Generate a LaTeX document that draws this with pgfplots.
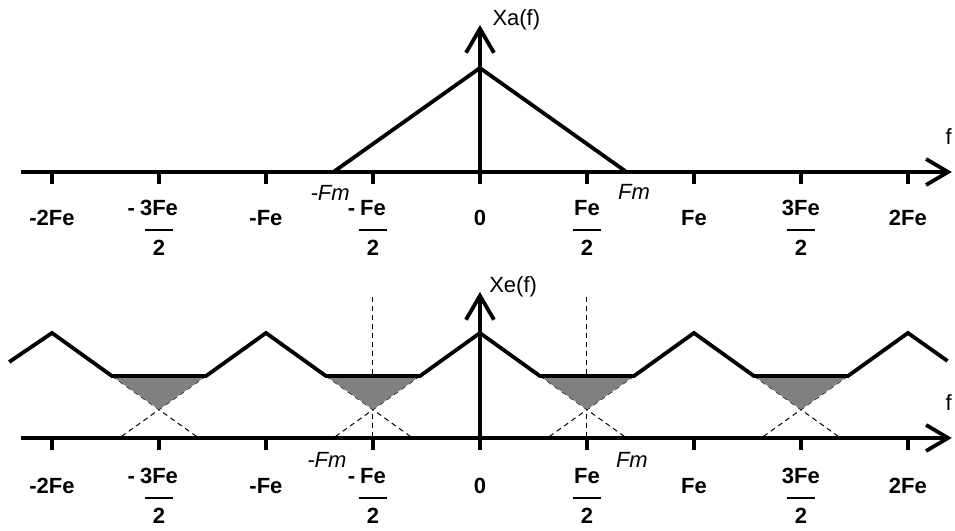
\documentclass[border=0pt]{standalone}
\usepackage{fontspec}
\setmainfont{Liberation Sans}
\usepackage{pgfplots}
\pgfplotsset{compat=1.18}
\usetikzlibrary{arrows.meta}

% fraction label: #1 sign (hangs left, numerator level), #2 numerator, #3 denominator
\newcommand\fr[3]{\setbox0\hbox{#2}\hbox to \wd0{%
  \rlap{\hbox to \wd0{\hss\raisebox{5.1pt}{\llap{#1\hspace{2.5pt}}#2}\hss}}%
  \rlap{\hbox to \wd0{\hss\raisebox{-2.3pt}{\rule{14pt}{1pt}}\hss}}%
  \hbox to \wd0{\hss\raisebox{-15pt}{#3}\hss}}}

\pgfplotsset{
  spec/.style={
    x=53.5pt, y=0.5pt, xmin=-4.29, xmax=4.41, ymin=0,
    axis lines=middle, clip=false,
    xtick={-4,-3,-2,-1,0,1,2,3,4}, ytick=\empty,
    xticklabels={{-2Fe},{\fr{-}{3Fe}{2}},{-Fe},{\fr{-}{Fe}{2}},{0},{\fr{}{Fe}{2}},{Fe},{\fr{}{3Fe}{2}},{2Fe}},
    hide obscured x ticks=false,
    tick align=outside, major tick length=6pt,
    every tick/.style={black, line width=1.7pt},
    xticklabel style={font=\bfseries\fontsize{11}{13}\selectfont, anchor=base, inner sep=0pt},
    axis line style={line width=1.9pt},
    x axis line style={-{Straight Barb[length=11pt,width=13pt]}},
    y axis line style={-{Straight Barb[length=12pt,width=14pt]}},
  },
}
\tikzset{
  dsh/.style={black, line width=0.5pt, dash pattern=on 2.5pt off 2pt},
  env/.style={black, line width=1.9pt},
  lbl/.style={font=\fontsize{11}{13}\selectfont, inner sep=0pt},
  fm/.style={font=\itshape\fontsize{11}{13}\selectfont, inner sep=0pt},
}

\begin{document}
\begin{tikzpicture}
% ---------- top: Xa(f) ----------
\begin{axis}[spec, ymax=147, xticklabel style={yshift=-21pt}]
  \path (axis cs:-4.486,-359) rectangle (axis cs:4.439,172);
  \addplot[env] coordinates {(-1.37,0) (0,104) (1.37,0)};
  \node[lbl] at (axis cs:0.34,152) {Xa(f)};
  \node[lbl] at (axis cs:4.38,35) {f};
  \node[fm] at (axis cs:-1.40,-21) {-Fm};
  \node[fm] at (axis cs:1.44,-20) {Fm};
\end{axis}
% ---------- bottom: Xe(f) ----------
\begin{axis}[spec, at={(0,-133pt)}, ymax=146, xticklabel style={yshift=-22pt}]
  % vertical dashed lines at +-Fe/2
  \addplot[dsh] coordinates {(-1,141) (-1,0)};
  \addplot[dsh] coordinates {(1,141) (1,0)};
  % continued (dashed) spectrum edges
  \addplot[dsh] coordinates {(-3.44,62) (-2.63,0)};
  \addplot[dsh] coordinates {(-2.56,62) (-3.37,0)};
  \addplot[dsh] coordinates {(-1.44,62) (-0.63,0)};
  \addplot[dsh] coordinates {(-0.56,62) (-1.37,0)};
  \addplot[dsh] coordinates {(0.56,62) (1.37,0)};
  \addplot[dsh] coordinates {(1.44,62) (0.63,0)};
  \addplot[dsh] coordinates {(2.56,62) (3.37,0)};
  \addplot[dsh] coordinates {(3.44,62) (2.63,0)};
  % aliasing (overlap) regions
  \addplot[fill=gray, draw=none] coordinates {(-3.44,62) (-2.56,62) (-3,28.4)} -- cycle;
  \addplot[fill=gray, draw=none] coordinates {(-1.44,62) (-0.56,62) (-1,28.4)} -- cycle;
  \addplot[fill=gray, draw=none] coordinates {(0.56,62) (1.44,62) (1,28.4)} -- cycle;
  \addplot[fill=gray, draw=none] coordinates {(2.56,62) (3.44,62) (3,28.4)} -- cycle;
  % sampled spectrum envelope
  \addplot[env] coordinates {(-4.4,76) (-4,105) (-3.44,62) (-2.56,62) (-2,105)
     (-1.44,62) (-0.56,62) (0,105) (0.56,62) (1.44,62) (2,105)
     (2.56,62) (3.44,62) (4,105) (4.37,77)};
  \node[lbl] at (axis cs:0.31,151) {Xe(f)};
  \node[lbl] at (axis cs:4.38,35) {f};
  \node[fm] at (axis cs:-1.43,-22) {-Fm};
  \node[fm] at (axis cs:1.42,-22) {Fm};
\end{axis}
\end{tikzpicture}
\end{document}
